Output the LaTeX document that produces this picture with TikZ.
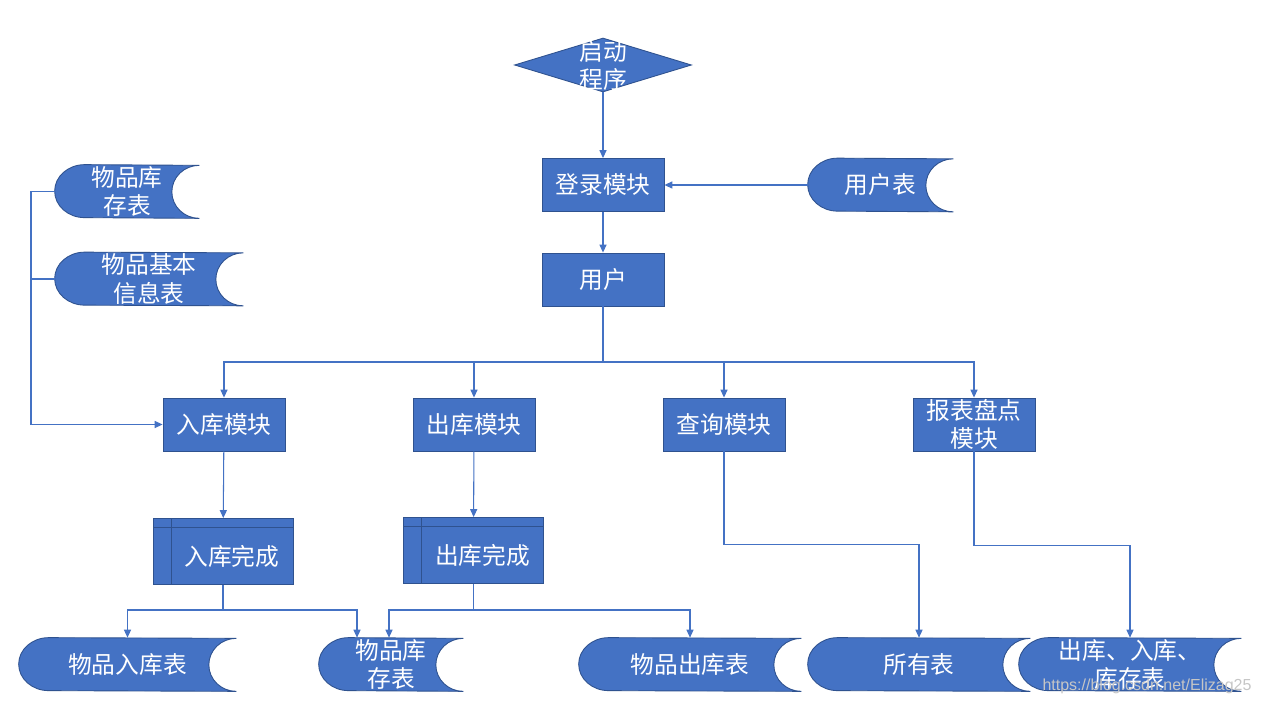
\documentclass[tikz,border=0pt]{standalone}
\usepackage{fontspec}
\newfontfamily\cjk{Noto Sans CJK SC}
\newfontfamily\wmfont{Liberation Sans}
\usetikzlibrary{arrows.meta,shapes.geometric,backgrounds,positioning}
\definecolor{boxblue}{HTML}{4472C4}
\definecolor{edgeblue}{HTML}{2F528F}
\tikzset{
  box/.style={draw=edgeblue,fill=boxblue,text=white,line width=0.5pt,
    font={\cjk\fontsize{13.5pt}{16pt}\selectfont},align=center,
    minimum width=2.44cm,minimum height=1.06cm,inner sep=0pt},
  startdia/.style={box,diamond,minimum width=3.54cm,minimum height=1.08cm},
  innerbox/.style={box,minimum width=2.8cm,minimum height=1.32cm,
    text height=17pt,text depth=1.6pt,
    path picture={
      \draw[edgeblue,line width=0.5pt]
        ([yshift=-0.18cm]path picture bounding box.north west) --
        ([yshift=-0.18cm]path picture bounding box.north east)
        ([xshift=0.36cm]path picture bounding box.north west) --
        ([xshift=0.36cm]path picture bounding box.south west);}},
  store/.style={text=white,font={\cjk\fontsize{13.5pt}{16pt}\selectfont},
    align=center,minimum height=1.06cm,inner sep=0pt},
  conn/.style={draw=boxblue,line width=0.6pt},
  flow/.style={conn,-{Triangle[length=4.5pt,width=4pt]}},
  wm/.style={text=gray!45,font={\wmfont\fontsize{9.1pt}{11pt}\selectfont}}
}
% stored data outline, filled behind the named node
\newcommand{\storefill}[1]{%
  \begin{scope}[on background layer]
    \filldraw[fill=boxblue,draw=edgeblue,line width=0.5pt]
      ([xshift=0.6cm]#1.north west)
      arc[start angle=90,end angle=270,x radius=0.6cm,y radius=0.53cm]
      -- (#1.south east)
      arc[start angle=270,end angle=90,x radius=0.55cm,y radius=0.53cm]
      -- cycle;
  \end{scope}}
\begin{document}
\begin{tikzpicture}[x=0.02cm,y=-0.02cm]
\begin{scope}[on background layer]
\fill[white] (0,0) rectangle (1262,705);
\end{scope}
\useasboundingbox (0,0) rectangle (1262,705);

% main column
\node[startdia] (start) at (603,65)
  {\raisebox{-5.8pt}[0pt][0pt]{\begin{tabular}{@{}c@{}}启动\\程序\end{tabular}}};
\node[box] (login) at (603,185) {登录模块};
\node[store,minimum width=2.9cm] (usertab) at (880.5,185) {用户表};
\node[box] (user) at (603,279.5) {用户};

% tables on the left
\node[store,minimum width=2.88cm] (stock1) at (127,191.5) {物品库\\存表};
\node[store,minimum width=3.76cm] (info) at (149,279) {物品基本\\信息表};

% modules
\node[box] (inmod) at (224,424.5) {入库模块};
\node[box] (outmod) at (474,424.5) {出库模块};
\node[box] (qmod) at (724,424.5) {查询模块};
\node[box] (rmod) at (974,424.5) {报表盘点\\模块};

\node[innerbox] (indone) at (223,551.5) {\hspace*{0.36cm}入库完成};
\node[innerbox] (outdone) at (473.5,550.5) {\hspace*{0.36cm}出库完成};

% result tables
\node[store,minimum width=4.34cm] (intab) at (127.5,664.5) {物品入库表};
\node[store,minimum width=2.88cm] (stock2) at (391,664.5) {物品库\\存表};
\node[store,minimum width=4.44cm] (outtab) at (690,664.5) {物品出库表};
\node[store,minimum width=4.44cm] (alltab) at (919,664.5) {所有表};
\node[store,minimum width=4.44cm] (rtab) at (1130,664.5) {出库、入库、\\库存表};

\storefill{usertab}
\storefill{stock1}
\storefill{info}
\storefill{intab}
\storefill{stock2}
\storefill{outtab}
\storefill{alltab}
\storefill{rtab}

% connectors
\draw[flow] (start) -- (login);
\draw[flow] (usertab) -- (login);
\draw[flow] (login) -- (user);
\coordinate (bus) at (603,362);
\draw[conn] (user) -- (bus);
\foreach \m in {inmod,outmod,qmod,rmod}
  \draw[flow] (bus) -| (\m.north);

\coordinate (lbus) at (31,191.5);
\draw[flow] (stock1.west) -- (lbus) |- (inmod.west);
\draw[conn] (info.west) -- (info.west -| lbus);

\draw[flow] (inmod) -- (indone);
\draw[flow] (outmod) -- (outdone);
\coordinate (inbus) at (223,610);
\draw[conn] (indone) -- (inbus);
\draw[flow] (inbus) -| (intab.north);
\draw[flow] (inbus) -| ([xshift=-0.68cm]stock2.north);
\coordinate (outbus) at (473.5,610);
\draw[conn] (outdone) -- (outbus);
\draw[flow] (outbus) -| ([xshift=-0.04cm]stock2.north);
\draw[flow] (outbus) -| (outtab.north);
\draw[flow] (qmod.south) -- ++(0,93) -| (alltab.north);
\draw[flow] (rmod.south) -- ++(0,94) -| (rtab.north);

\node[wm] (mark) at (1147,686) {https://blog.csdn.net/Elizag25};
\end{tikzpicture}
\end{document}
